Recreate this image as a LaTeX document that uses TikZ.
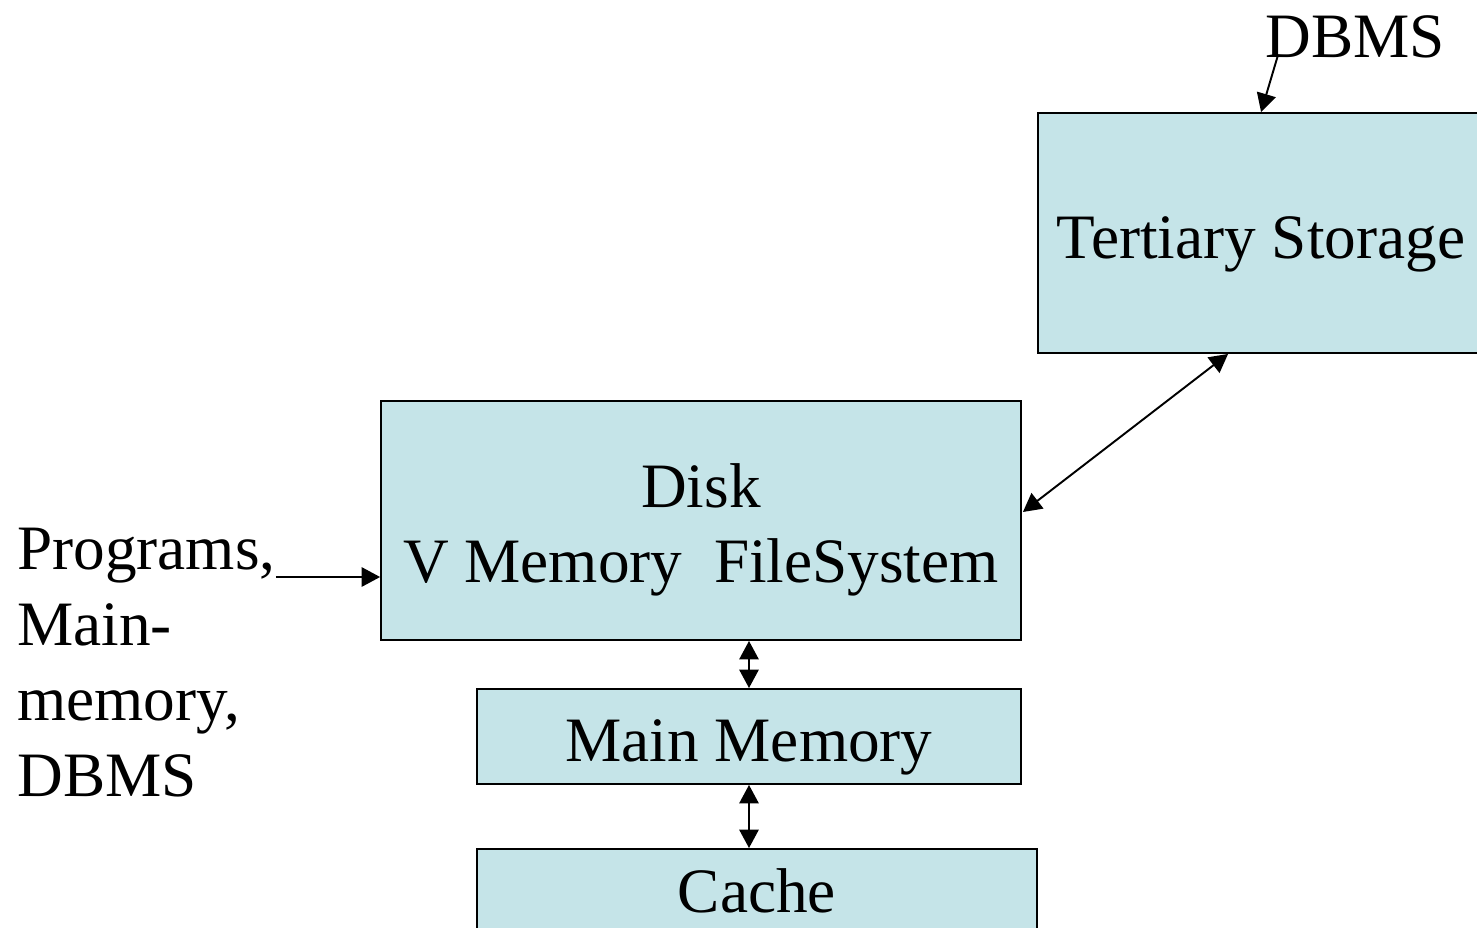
\documentclass[tikz,border=0pt]{standalone}
\usepackage{fontspec}
\setmainfont{Liberation Serif}
\usetikzlibrary{arrows.meta,calc}
\definecolor{boxfill}{HTML}{C5E4E8}
\tikzset{
  box/.style={draw, fill=boxfill, line width=1.1pt, inner sep=0pt, text depth=0pt, align=center},
  lbl/.style={inner sep=0pt},
  arr/.style={line width=1.1pt, -{Triangle[length=10.5pt,width=11pt]}},
  dblarr/.style={line width=1.1pt, {Triangle[length=10.5pt,width=11pt]}-{Triangle[length=10.5pt,width=11pt]}}
}
\begin{document}
\begin{tikzpicture}[x=0.02cm,y=-0.02cm,font=\fontsize{36}{43}\selectfont]
\useasboundingbox (0,0) rectangle (1477,927);
\clip (0,0) rectangle (1477,927);
% storage boxes
\node[box, minimum width=8.92cm, minimum height=4.8cm, text height=1cm] (tertiary) at (1261,233) {Tertiary Storage};
\node[box, minimum width=12.8cm, minimum height=4.78cm, text height=2.5cm] (disk) at (701,520.5) {Disk\\V Memory~~FileSystem};
\node[box, minimum width=10.88cm, minimum height=1.9cm, text height=1cm] (mainmem) at (749,736.5) {Main Memory};
\node[box, minimum width=11.2cm, minimum height=2cm, text height=0.52cm] (cache) at (757,899) {Cache};
% labels
\node[lbl, anchor=base west] (dbms) at (1265,57) {DBMS};
\node[lbl, anchor=north west, align=left] (progs) at (17,528) {Programs,\\Main-\\memory,\\DBMS};
% arrows
\draw[arr] ($(dbms.base west)+(13,-2)$) -- ($(tertiary.north west)+(224,0)$);
\draw[dblarr] ($(tertiary.south west)+(191,0)$) -- ($(disk.east)+(1,-8.5)$);
\coordinate (pin) at ($(disk.west)+(0,56.5)$);
\draw[arr] (progs.east |- pin) -- (pin);
\draw[dblarr] (disk.south -| mainmem.north) -- (mainmem.north);
\draw[dblarr] (mainmem.south) -- (mainmem.south |- cache.north);
\end{tikzpicture}
\end{document}
